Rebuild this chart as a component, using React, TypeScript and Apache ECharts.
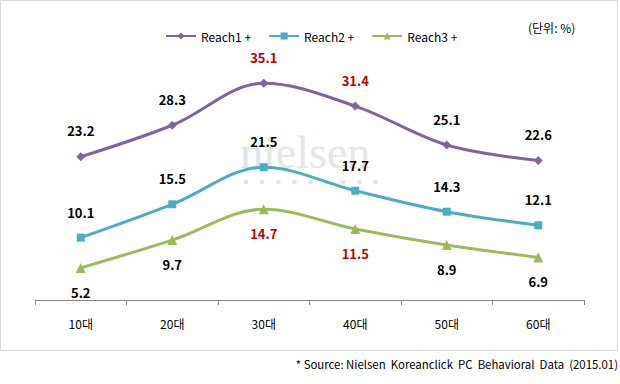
import React, { useEffect, useRef } from "react";
import * as echarts from "echarts";

const categories = ["10대", "20대", "30대", "40대", "50대", "60대"];
const seriesNames = ["Reach1 +", "Reach2 +", "Reach3 +"];
const reach1 = [23.2, 28.3, 35.1, 31.4, 25.1, 22.6];
const reach2 = [10.1, 15.5, 21.5, 17.7, 14.3, 12.1];
const reach3 = [5.2, 9.7, 14.7, 11.5, 8.9, 6.9];
// indices whose value label is highlighted in red
const red1 = [2, 3];
const red2: number[] = [];
const red3 = [2, 3];

const colors = ["#8064A2", "#4BACC6", "#9BBB59"];
const symbols = ["diamond", "rect", "triangle"];
const symbolSizes = [9, 8, 10];
const FONT = "'Noto Sans CJK KR', 'Noto Sans', sans-serif";

function mkData(vals: number[], reds: number[]) {
  return vals.map((v, i) => ({
    value: v,
    label: { color: reds.includes(i) ? "#C00000" : "#000000" },
  }));
}

export default function App() {
  const ref = useRef<HTMLDivElement>(null);
  useEffect(() => {
    if (!ref.current) return;
    const chart = echarts.init(ref.current, null, { renderer: "svg" });
    const allVals = [reach1, reach2, reach3];
    const allReds = [red1, red2, red3];
    const dots = [];
    for (let i = 0; i < 9; i++) {
      dots.push({
        type: "circle",
        shape: { cx: 246 + i * 16.2, cy: 182, r: 2.3 },
        style: { fill: "#e4e4e4" },
        silent: true,
        z: 0,
      });
    }
    chart.setOption({
      animation: false,
      backgroundColor: "#ffffff",
      grid: { left: 35, right: 36, top: 53, bottom: 84, containLabel: false },
      legend: {
        left: 160,
        top: 25,
        itemWidth: 30,
        itemHeight: 9,
        itemGap: 17,
        data: seriesNames,
        textStyle: { fontFamily: FONT, fontSize: 12, color: "#000" },
      },
      xAxis: {
        type: "category",
        data: categories,
        boundaryGap: true,
        axisLine: { lineStyle: { color: "#868686", width: 1 } },
        axisTick: { show: true, length: 5, lineStyle: { color: "#868686" } },
        axisLabel: { margin: 17, fontFamily: FONT, fontSize: 12, color: "#000" },
      },
      yAxis: {
        type: "value",
        min: 0,
        max: 40,
        show: false,
        splitLine: { show: false },
      },
      graphic: [
        {
          type: "rect",
          shape: { x: 0.5, y: 0.5, width: 617, height: 350 },
          style: { fill: "none", stroke: "#d9d9d9", lineWidth: 1 },
          silent: true,
        },
        {
          type: "text",
          x: 240,
          y: 129,
          silent: true,
          z: 0,
          style: {
            text: "{a|n}{b|ielsen}",
            rich: {
              a: { fontFamily: "'Liberation Serif', serif", fontSize: 46, fill: "#d8e8f2" },
              b: { fontFamily: "'Liberation Serif', serif", fontSize: 46, fill: "#e6e6e6" },
            },
          },
        },
        ...dots,
        {
          type: "text",
          x: 528,
          y: 21,
          style: { text: "(단위: %)", fontFamily: FONT, fontSize: 12, fill: "#000" },
        },
        {
          type: "text",
          x: 618,
          y: 358,
          style: {
            text: "* Source: Nielsen  Koreanclick  PC  Behavioral  Data  (2015.01)",
            fontFamily: FONT,
            fontSize: 11.4,
            fill: "#000",
            align: "right",
          },
        },
      ],
      series: seriesNames.map((name, k) => ({
        name,
        type: "line",
        smooth: 0.35,
        data: mkData(allVals[k], allReds[k]),
        symbol: symbols[k],
        symbolSize: symbolSizes[k],
        showAllSymbol: true,
        lineStyle: { color: colors[k], width: 3 },
        itemStyle: { color: colors[k] },
        z: 3,
        label: {
          show: true,
          position: k === 2 ? "bottom" : "top",
          distance: k === 2 ? 13 : 15,
          fontFamily: FONT,
          fontSize: 13,
          fontWeight: "bold",
        },
      })),
    });
    return () => chart.dispose();
  }, []);
  return (
    <div
      ref={ref}
      style={{ position: "fixed", left: 0, top: 0, width: 620, height: 384 }}
    />
  );
}
